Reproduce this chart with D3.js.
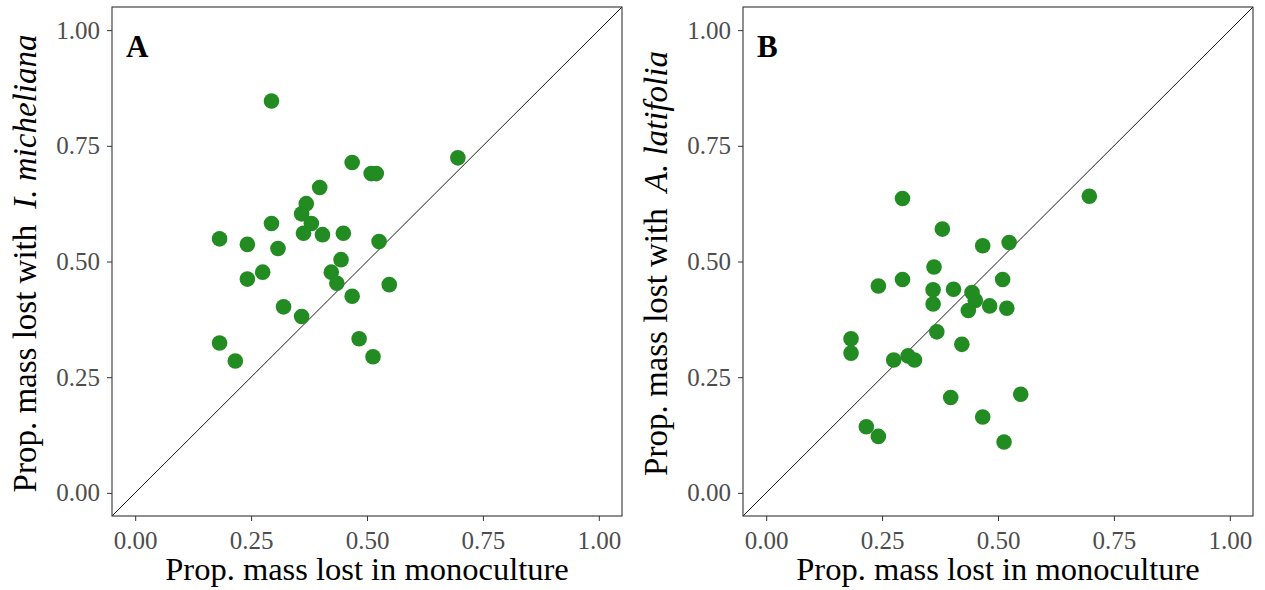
<!DOCTYPE html>
<html>
<head>
<meta charset="utf-8">
<script src="https://cdn.jsdelivr.net/npm/d3@7"></script>
<style>
  body { margin: 0; background: #fff; }
  svg text { font-family: "Liberation Serif", "Times New Roman", serif; }
</style>
</head>
<body>
<svg id="chart" width="1265" height="590" viewBox="0 0 1265 590"></svg>
<script>
// monoculture mass loss (x) and mixture mass loss (y)
const monoA = [0.294, 0.696, 0.468, 0.509, 0.520, 0.398, 0.369, 0.359, 0.380, 0.294,
               0.182, 0.242, 0.363, 0.404, 0.449, 0.526, 0.308, 0.444, 0.275, 0.242,
               0.423, 0.435, 0.548, 0.468, 0.320, 0.359, 0.483, 0.182, 0.216, 0.513];
const withMicheliana = [0.847, 0.724, 0.714, 0.690, 0.690, 0.660, 0.625, 0.603, 0.582, 0.582,
                        0.549, 0.537, 0.561, 0.558, 0.561, 0.543, 0.528, 0.504, 0.477, 0.462,
                        0.477, 0.453, 0.450, 0.425, 0.402, 0.381, 0.333, 0.324, 0.285, 0.294];

const monoB = [0.697, 0.294, 0.380, 0.467, 0.524, 0.362, 0.294, 0.242, 0.510, 0.360,
               0.404, 0.444, 0.451, 0.360, 0.482, 0.519, 0.436, 0.368, 0.422, 0.183,
               0.183, 0.275, 0.306, 0.320, 0.398, 0.549, 0.467, 0.216, 0.242, 0.513];
const withLatifolia = [0.641, 0.636, 0.570, 0.534, 0.541, 0.488, 0.461, 0.447, 0.461, 0.439,
                       0.440, 0.433, 0.416, 0.408, 0.404, 0.399, 0.394, 0.348, 0.321, 0.333,
                       0.302, 0.287, 0.296, 0.287, 0.206, 0.213, 0.164, 0.143, 0.122, 0.110];

const tickValues = [0, 0.25, 0.5, 0.75, 1];
const panelLabels = ["A", "B"];
const speciesNames = ["I. micheliana", "A. latifolia"];

const svg = d3.select("#chart");

const panels = [
  { left: 112, right: 622, x: monoA, y: withMicheliana },
  { left: 743, right: 1253, x: monoB, y: withLatifolia }
];
const plotTop = 7, plotBottom = 516;

panels.forEach((p, i) => {
  const xScale = d3.scaleLinear().domain([-0.05, 1.05]).range([p.left, p.right]);
  const yScale = d3.scaleLinear().domain([-0.05, 1.05]).range([plotBottom, plotTop]);
  const g = svg.append("g");

  // 1:1 line
  g.append("line")
    .attr("x1", xScale(-0.05)).attr("y1", yScale(-0.05))
    .attr("x2", xScale(1.05)).attr("y2", yScale(1.05))
    .attr("stroke", "#000").attr("stroke-width", 0.9);

  // points
  const pts = p.x.map((v, j) => ({ x: v, y: p.y[j] }));
  g.selectAll("circle")
    .data(pts)
    .enter()
    .append("circle")
    .attr("cx", d => xScale(d.x))
    .attr("cy", d => yScale(d.y))
    .attr("r", 7.8)
    .attr("fill", "#228B22");

  // axes
  const xAxis = g.append("g")
    .attr("transform", `translate(0,${plotBottom})`)
    .call(d3.axisBottom(xScale).tickValues(tickValues).tickFormat(d3.format(".2f"))
      .tickSize(5).tickPadding(10));
  const yAxis = g.append("g")
    .attr("transform", `translate(${p.left},0)`)
    .call(d3.axisLeft(yScale).tickValues(tickValues).tickFormat(d3.format(".2f"))
      .tickSize(5).tickPadding(7));
  [xAxis, yAxis].forEach(ax => {
    ax.select(".domain").remove();
    ax.selectAll(".tick line").attr("stroke", "#333");
    ax.selectAll(".tick text")
      .attr("fill", "#4d4d4d")
      .style("font-size", "25px");
  });

  // panel border
  g.append("rect")
    .attr("x", p.left).attr("y", plotTop)
    .attr("width", p.right - p.left).attr("height", plotBottom - plotTop)
    .attr("fill", "none").attr("stroke", "#333").attr("stroke-width", 1.1);

  // panel letter
  g.append("text")
    .attr("x", p.left + 14).attr("y", 57)
    .style("font-size", "31px").style("font-weight", "bold")
    .text(panelLabels[i]);

  // x title
  g.append("text")
    .attr("x", (p.left + p.right) / 2).attr("y", 580)
    .attr("text-anchor", "middle")
    .style("font-size", "32.5px")
    .text("Prop. mass lost in monoculture");

  // y title
  const yt = g.append("text")
    .attr("transform", `translate(${p.left - 76},${(plotTop + plotBottom) / 2 + 2}) rotate(-90)`)
    .attr("text-anchor", "middle")
    .style("font-size", "33px");
  yt.append("tspan").text("Prop. mass lost with");
  yt.append("tspan").attr("dx", 16).style("font-style", "italic").text(speciesNames[i]);
});
</script>
</body>
</html>
